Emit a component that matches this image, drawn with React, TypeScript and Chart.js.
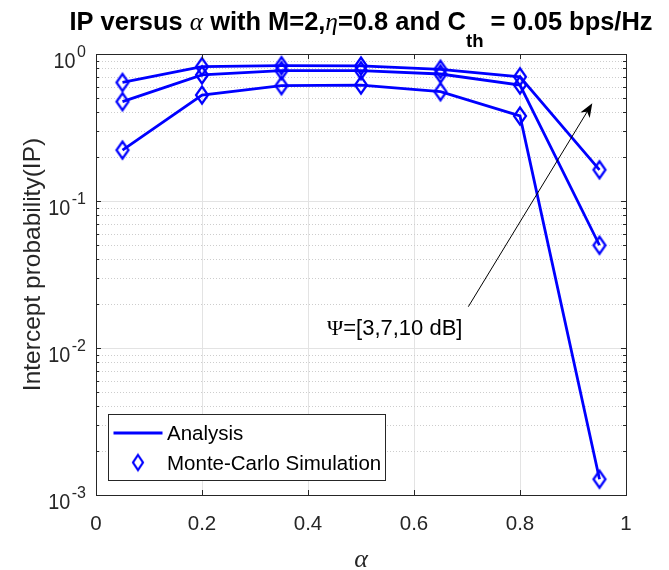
import React, { useEffect, useRef } from 'react';
import { Chart, registerables } from 'chart.js';

Chart.register(...registerables);

// ---------------- data ----------------
const alphaValues = [0.05, 0.2, 0.35, 0.5, 0.65, 0.8, 0.95];
const ipPsi10dB = [0.64, 0.82, 0.833, 0.829, 0.787, 0.7, 0.163];
const ipPsi7dB = [0.474, 0.72, 0.77, 0.77, 0.731, 0.615, 0.05];
const ipPsi3dB = [0.222, 0.526, 0.609, 0.615, 0.554, 0.379, 0.00128];
const seriesNames = ['Ψ = 10 dB', 'Ψ = 7 dB', 'Ψ = 3 dB'];

const xTickValues = [0, 0.2, 0.4, 0.6, 0.8, 1];
const yDecadeValues = [0.001, 0.01, 0.1, 1];
const yTickExponents = ['-3', '-2', '-1', '0'];
const yMinorMultipliers = [2, 3, 4, 5, 6, 7, 8, 9];

const legendLabels = ['Analysis', 'Monte-Carlo Simulation'];
const titleParts = [
  { text: 'IP versus ', kind: 'b' },
  { text: 'α', kind: 'g' },
  { text: ' with M=2,', kind: 'b' },
  { text: 'η', kind: 'g' },
  { text: '=0.8 and C', kind: 'b' },
  { text: 'th', kind: 'sub' },
  { text: ' = 0.05 bps/Hz', kind: 'b' },
];
const xAxisTitle = 'α';
const yAxisTitle = 'Intercept probability(IP)';
const annotationSymbol = 'Ψ';
const annotationRest = '=[3,7,10 dB]';
const arrowTail = [0.7025, 0.0191];
const arrowHead = [0.9364, 0.462];
const annotationAt = [0.4358, 0.01226];

// ---------------- styles ----------------
const BLUE = '#0000ff';
const AXIS = '#262626';
const GRID = '#e3e3e3';
const MINOR = '#cdcdcd';
const SANS = '"Liberation Sans", Arial, Helvetica, sans-serif';
const SERIF = '"Liberation Serif", "Times New Roman", serif';

function makeDiamond(hw: number, hh: number, lw: number) {
  const c = document.createElement('canvas');
  c.width = Math.ceil(hw * 2 + lw * 2 + 2) & ~1;
  c.height = Math.ceil(hh * 2 + lw * 2 + 2) & ~1;
  const g = c.getContext('2d')!;
  const cx = c.width / 2;
  const cy = c.height / 2;
  g.strokeStyle = BLUE;
  g.lineWidth = lw;
  g.lineJoin = 'miter';
  g.beginPath();
  g.moveTo(cx, cy - hh);
  g.lineTo(cx + hw, cy);
  g.lineTo(cx, cy + hh);
  g.lineTo(cx - hw, cy);
  g.closePath();
  g.stroke();
  return c;
}

function makeDecorPlugin(legendDiamond: HTMLCanvasElement) {
  return {
    id: 'decor',
    beforeDatasetsDraw(chart: any) {
      const { ctx, chartArea: a } = chart;
      const y = chart.scales.y;
      ctx.save();
      ctx.strokeStyle = MINOR;
      ctx.lineWidth = 1;
      ctx.setLineDash([1, 2]);
      yDecadeValues.slice(0, -1).forEach((d) =>
        yMinorMultipliers.forEach((m) => {
          const py = Math.round(y.getPixelForValue(d * m)) + 0.5;
          ctx.beginPath();
          ctx.moveTo(a.left, py);
          ctx.lineTo(a.right, py);
          ctx.stroke();
        })
      );
      ctx.restore();
    },
    afterDraw(chart: any) {
      const { ctx, chartArea: a } = chart;
      const x = chart.scales.x;
      const y = chart.scales.y;
      ctx.save();

      // box
      ctx.strokeStyle = AXIS;
      ctx.lineWidth = 1;
      ctx.strokeRect(Math.round(a.left) + 0.5, Math.round(a.top) + 0.5, Math.round(a.right - a.left), Math.round(a.bottom - a.top));

      // ticks
      ctx.beginPath();
      xTickValues.forEach((v) => {
        const px = Math.round(x.getPixelForValue(v)) + 0.5;
        ctx.moveTo(px, a.bottom);
        ctx.lineTo(px, a.bottom - 5);
        ctx.moveTo(px, a.top);
        ctx.lineTo(px, a.top + 5);
      });
      yDecadeValues.forEach((v) => {
        const py = Math.round(y.getPixelForValue(v)) + 0.5;
        ctx.moveTo(a.left, py);
        ctx.lineTo(a.left + 5, py);
        ctx.moveTo(a.right, py);
        ctx.lineTo(a.right - 5, py);
      });
      yDecadeValues.slice(0, -1).forEach((d) =>
        yMinorMultipliers.forEach((m) => {
          const py = Math.round(y.getPixelForValue(d * m)) + 0.5;
          ctx.moveTo(a.left, py);
          ctx.lineTo(a.left + 3, py);
          ctx.moveTo(a.right, py);
          ctx.lineTo(a.right - 3, py);
        })
      );
      ctx.stroke();

      // y tick labels 10^n (right aligned)
      ctx.fillStyle = AXIS;
      ctx.textAlign = 'left';
      ctx.textBaseline = 'alphabetic';
      const labelRight = a.left - 10;
      yDecadeValues.forEach((v, i) => {
        const py = y.getPixelForValue(v);
        ctx.font = `16px ${SANS}`;
        const ew = ctx.measureText(yTickExponents[i]).width;
        ctx.fillText(yTickExponents[i], labelRight - ew, py + 3);
        ctx.font = `22px ${SANS}`;
        const bw = ctx.measureText('10').width * 0.9;
        ctx.save();
        ctx.translate(labelRight - ew - 1.5 - bw, py + 14);
        ctx.scale(0.9, 1);
        ctx.fillText('10', 0, 0);
        ctx.restore();
      });

      // y axis title
      ctx.save();
      ctx.translate(39.5, (a.top + a.bottom) / 2 - 10);
      ctx.rotate(-Math.PI / 2);
      ctx.textAlign = 'center';
      ctx.font = `24.5px ${SANS}`;
      ctx.fillText(yAxisTitle, 0, 0);
      ctx.restore();

      // x axis title
      ctx.textAlign = 'center';
      ctx.font = `italic 26px ${SERIF}`;
      ctx.fillText(xAxisTitle, (a.left + a.right) / 2, 567);

      // title
      const fontFor = (k: string) =>
        k === 'g' ? `italic 26px ${SERIF}` : k === 'sub' ? `bold 19px ${SANS}` : `bold 26px ${SANS}`;
      let total = 0;
      titleParts.forEach((p) => {
        ctx.font = fontFor(p.kind);
        total += ctx.measureText(p.text).width;
      });
      const targetW = 583;
      const sx = targetW / total;
      ctx.save();
      ctx.fillStyle = '#000';
      ctx.translate((a.left + a.right) / 2 - targetW / 2, 30);
      ctx.scale(sx, 1);
      ctx.textAlign = 'left';
      let cx = 0;
      titleParts.forEach((p) => {
        ctx.font = fontFor(p.kind);
        ctx.fillText(p.text, cx, p.kind === 'sub' ? 17 : 0);
        cx += ctx.measureText(p.text).width;
      });
      ctx.restore();

      // legend
      const lx = a.left + 12.5;
      const lb = a.bottom - 14.5;
      const lw = 277;
      const lh = 66;
      ctx.fillStyle = '#fff';
      ctx.fillRect(lx, lb - lh, lw, lh);
      ctx.strokeStyle = AXIS;
      ctx.lineWidth = 1;
      ctx.strokeRect(lx, lb - lh, lw, lh);
      ctx.strokeStyle = BLUE;
      ctx.lineWidth = 2.8;
      ctx.beginPath();
      ctx.moveTo(lx + 5, lb - lh + 18.5);
      ctx.lineTo(lx + 54, lb - lh + 18.5);
      ctx.stroke();
      ctx.drawImage(legendDiamond, lx + 29.5 - legendDiamond.width / 2, lb - lh + 48 - legendDiamond.height / 2);
      ctx.fillStyle = '#000';
      ctx.font = `20.5px ${SANS}`;
      ctx.textAlign = 'left';
      ctx.textBaseline = 'middle';
      ctx.fillText(legendLabels[0], lx + 58.5, lb - lh + 20);
      ctx.fillText(legendLabels[1], lx + 58.5, lb - lh + 50);

      // annotation arrow
      const tx = x.getPixelForValue(arrowTail[0]);
      const ty = y.getPixelForValue(arrowTail[1]);
      const hx = x.getPixelForValue(arrowHead[0]);
      const hy = y.getPixelForValue(arrowHead[1]);
      const ang = Math.atan2(hy - ty, hx - tx);
      ctx.strokeStyle = '#000';
      ctx.lineWidth = 1;
      ctx.beginPath();
      ctx.moveTo(tx, ty);
      ctx.lineTo(hx - Math.cos(ang) * 8, hy - Math.sin(ang) * 8);
      ctx.stroke();
      const L = 14;
      const W = 5.5;
      ctx.fillStyle = '#000';
      ctx.beginPath();
      ctx.moveTo(hx, hy);
      ctx.lineTo(hx - Math.cos(ang) * L - Math.sin(ang) * W, hy - Math.sin(ang) * L + Math.cos(ang) * W);
      ctx.lineTo(hx - Math.cos(ang) * (L - 4), hy - Math.sin(ang) * (L - 4));
      ctx.lineTo(hx - Math.cos(ang) * L + Math.sin(ang) * W, hy - Math.sin(ang) * L - Math.cos(ang) * W);
      ctx.closePath();
      ctx.fill();

      // annotation text
      const ax = x.getPixelForValue(annotationAt[0]);
      const ay = y.getPixelForValue(annotationAt[1]);
      ctx.textBaseline = 'alphabetic';
      ctx.font = `22px ${SERIF}`;
      ctx.fillText(annotationSymbol, ax, ay);
      const sw = ctx.measureText(annotationSymbol).width;
      ctx.font = `22px ${SANS}`;
      ctx.fillText(annotationRest, ax + sw, ay);

      ctx.restore();
    },
  };
}

export default function App() {
  const ref = useRef<HTMLCanvasElement>(null);

  useEffect(() => {
    document.body.style.margin = '0';
    const canvas = ref.current!;
    const diamond = makeDiamond(6, 8.5, 2.2);
    const legendDiamond = makeDiamond(5, 7.5, 2.2);
    const series = [ipPsi10dB, ipPsi7dB, ipPsi3dB];
    const toPts = (vals: number[]) => alphaValues.map((a, i) => ({ x: a, y: vals[i] }));

    const lineSets = series.map((vals, i) => ({
      label: `${legendLabels[0]} ${seriesNames[i]}`,
      data: toPts(vals),
      borderColor: BLUE,
      backgroundColor: BLUE,
      borderWidth: 2.8,
      pointRadius: 0,
      showLine: true,
      fill: false,
      tension: 0,
    }));
    const markerSets = series.map((vals, i) => ({
      label: `${legendLabels[1]} ${seriesNames[i]}`,
      data: toPts(vals),
      borderColor: BLUE,
      backgroundColor: 'transparent',
      showLine: false,
      pointStyle: diamond,
      pointRadius: 8,
    }));

    const chart: any = new Chart(canvas, {
      type: 'line',
      data: { datasets: [...lineSets, ...markerSets] as any },
      options: {
        animation: false,
        responsive: false,
        devicePixelRatio: 1,
        layout: { padding: { top: 54, right: 43, left: 0, bottom: 0 } },
        plugins: { legend: { display: false }, tooltip: { enabled: false }, title: { display: false } },
        scales: {
          x: {
            type: 'linear',
            min: 0,
            max: 1,
            afterBuildTicks: (s: any) => {
              s.ticks = xTickValues.map((v) => ({ value: v }));
            },
            afterFit: (s: any) => {
              s.height = 75;
            },
            ticks: {
              color: AXIS,
              font: { family: SANS, size: 20.5 },
              padding: 17,
              maxRotation: 0,
              callback: (v: any) => String(v),
            },
            grid: { color: GRID, lineWidth: 1, drawTicks: false },
            border: { display: false },
          },
          y: {
            type: 'logarithmic',
            min: 0.001,
            max: 1,
            afterBuildTicks: (s: any) => {
              s.ticks = yDecadeValues.map((v) => ({ value: v }));
            },
            afterFit: (s: any) => {
              s.width = 96;
            },
            ticks: { display: false },
            grid: { color: GRID, lineWidth: 1, drawTicks: false },
            border: { display: false },
          },
        },
      },
      plugins: [makeDecorPlugin(legendDiamond)],
    });
    return () => chart.destroy();
  }, []);

  return (
    <div style={{ position: 'fixed', left: 0, top: 0, width: 669, height: 570, background: '#fff' }}>
      <canvas ref={ref} width={669} height={570} style={{ display: 'block' }} />
    </div>
  );
}
